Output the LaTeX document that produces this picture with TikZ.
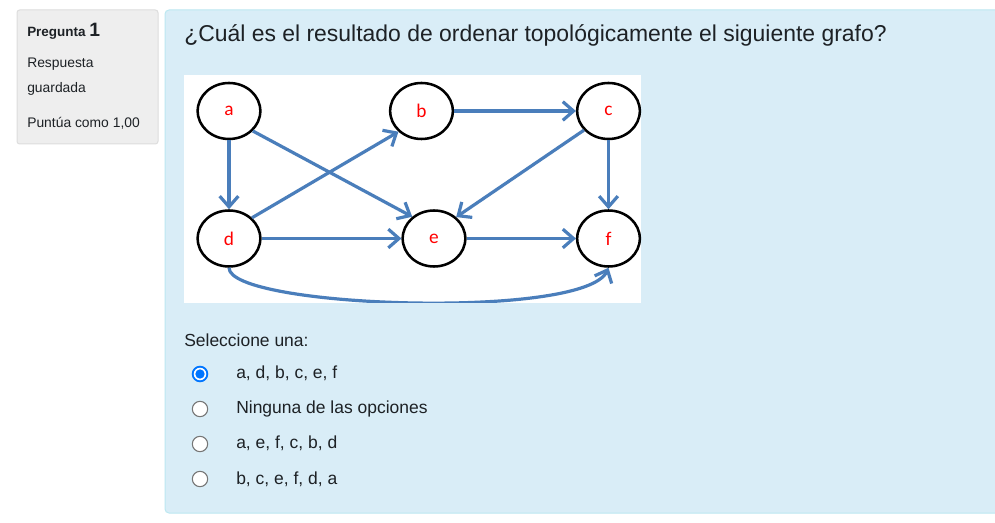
\documentclass[tikz,border=0pt]{standalone}
\usepackage{fontspec}
\setmainfont{Liberation Sans}
\newfontfamily\carl{Carlito}
\usetikzlibrary{shapes.geometric,arrows.meta}
\definecolor{infobg}{HTML}{D9EDF7}
\definecolor{infoborder}{HTML}{BCE8F1}
\definecolor{greybg}{HTML}{EEEEEE}
\definecolor{greyborder}{HTML}{DDDDDD}
\definecolor{edgeblue}{HTML}{4A7EBB}
\definecolor{labelred}{HTML}{FF0000}
\definecolor{radioblue}{HTML}{0075FF}
\definecolor{radiogrey}{HTML}{767676}
\definecolor{txt}{HTML}{1D2125}
\tikzset{
  gnode/.style={ellipse, draw=black, line width=1.9pt, fill=white, inner sep=0pt,
    minimum width=47pt, minimum height=42pt, text=labelred, font=\carl\fontsize{14.5pt}{16pt}\selectfont},
  gedge/.style={draw=edgeblue, line width=2.4pt, -{Straight Barb[length=8pt,width=14pt,line width=2.4pt]}},
  txtnode/.style={anchor=base west, inner sep=0pt, text=txt},
  optfont/.style={font=\fontsize{13.1pt}{15pt}\selectfont},
  smallfont/.style={font=\fontsize{10.4pt}{12pt}\selectfont},
  radiooff/.style={circle, draw=radiogrey, line width=0.8pt, fill=white, minimum size=11.5pt, inner sep=0pt},
}
\begin{document}
\begin{tikzpicture}[x=0.75pt,y=-0.75pt]
\useasboundingbox[fill=white] (0,0) rectangle (995,523);
% left info box
\draw[greyborder, fill=greybg, rounded corners=2pt, line width=0.75pt] (17,10) rectangle (158,144);
\node[txtnode, font=\bfseries\fontsize{10.1pt}{12pt}\selectfont] (preg) at (27,37) {Pregunta \fontsize{14.5pt}{16pt}\selectfont 1};
\node[txtnode, smallfont] (resp) at (27,67.5) {Respuesta};
\node[txtnode, smallfont] (guar) at (27,92.7) {guardada};
\node[txtnode, smallfont] (punt) at (27,127.5) {Puntúa como 1,00};
% main info box
\draw[infoborder, fill=infobg, rounded corners=3pt, line width=0.75pt] (165,10) rectangle (1005,513);
\node[txtnode, font=\fontsize{17.2pt}{20pt}\selectfont] (title) at (184,42) {¿Cuál es el resultado de ordenar topológicamente el siguiente grafo?};
% graph image
\fill[white] (184,75) rectangle (641,303);
\node[gnode] (a) at (229,111) {a};
\node[gnode] (b) at (421.5,111) {b};
\node[gnode] (c) at (608.5,111) {c};
\node[gnode] (d) at (229,238.5) {d};
\node[gnode] (e) at (434,238.5) {e};
\node[gnode] (f) at (608.5,238.5) {f};
\draw[gedge] (a.south) -- (d.north);
\draw[gedge] (a.-40) -- (e.135);
\draw[gedge] (d.42) -- (b.-138);
\draw[gedge] (b.east) -- (c.west);
\draw[gedge] (c.-142) -- (e.44);
\draw[gedge] (c.south) -- (f.north);
\draw[gedge] (d.east) -- (e.west);
\draw[gedge] (e.east) -- (f.west);
\begin{scope}
\clip (184,75) rectangle (641,303);
\draw[gedge] (d.south) .. controls (229,308) and (585,320) .. (f.south);
\end{scope}
% options
\node[txtnode, optfont] (sel) at (184,347) {Seleccione una:};
\fill[radioblue] (200,374) circle[radius=6.2pt];
\fill[white] (200,374) circle[radius=4.7pt];
\fill[radioblue] (200,374) circle[radius=3.5pt];
\node[radiooff] (r2) at (200,409) {};
\node[radiooff] (r3) at (200,444) {};
\node[radiooff] (r4) at (200,479) {};
\node[txtnode, optfont] (o1) at (236,378.5) {a, d, b, c, e, f};
\node[txtnode, optfont] (o2) at (236,413.5) {Ninguna de las opciones};
\node[txtnode, optfont] (o3) at (236,448.5) {a, e, f, c, b, d};
\node[txtnode, optfont] (o4) at (236,484) {b, c, e, f, d, a};
\end{tikzpicture}
\end{document}
